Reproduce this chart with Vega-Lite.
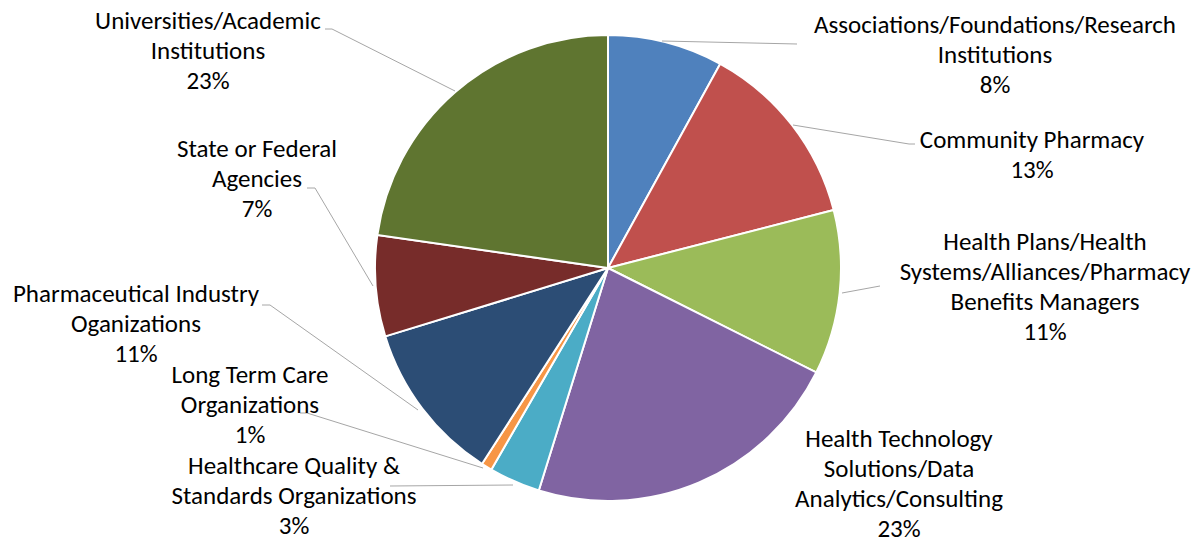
{
  "$schema": "https://vega.github.io/schema/vega-lite/v6.json",
  "width": 1200,
  "height": 545,
  "padding": 0,
  "autosize": {"type": "fit", "contains": "padding"},
  "background": "white",
  "config": {"view": {"stroke": null}},
  "datasets": {
    "slices": [
      {"i": 1, "cat": "Associations/Foundations/Research Institutions", "v": 8.0, "label": "Associations/Foundations/Research\nInstitutions\n8%", "lx": 995, "ly": 33},
      {"i": 2, "cat": "Community Pharmacy", "v": 13.0, "label": "Community Pharmacy\n13%", "lx": 1032, "ly": 148},
      {"i": 3, "cat": "Health Plans/Health Systems/Alliances/Pharmacy Benefits Managers", "v": 11.4, "label": "Health Plans/Health\nSystems/Alliances/Pharmacy\nBenefits Managers\n11%", "lx": 1045, "ly": 250},
      {"i": 4, "cat": "Health Technology Solutions/Data Analytics/Consulting", "v": 22.4, "label": "Health Technology\nSolutions/Data\nAnalytics/Consulting\n23%", "lx": 899, "ly": 447},
      {"i": 5, "cat": "Healthcare Quality & Standards Organizations", "v": 3.55, "label": "Healthcare Quality &\nStandards Organizations\n3%", "lx": 294, "ly": 474},
      {"i": 6, "cat": "Long Term Care Organizations", "v": 0.75, "label": "Long Term Care\nOrganizations\n1%", "lx": 250, "ly": 383},
      {"i": 7, "cat": "Pharmaceutical Industry Oganizations", "v": 11.16, "label": "Pharmaceutical Industry\nOganizations\n11%", "lx": 136, "ly": 302},
      {"i": 8, "cat": "State or Federal Agencies", "v": 7.0, "label": "State or Federal\nAgencies\n7%", "lx": 257, "ly": 157},
      {"i": 9, "cat": "Universities/Academic Institutions", "v": 22.74, "label": "Universities/Academic\nInstitutions\n23%", "lx": 208, "ly": 29}
    ],
    "leaders": [
      {"cat": "Associations", "s": 1, "x": 797, "y": 44},
      {"cat": "Associations", "s": 2, "x": 662, "y": 41},
      {"cat": "Community", "s": 1, "x": 915, "y": 144},
      {"cat": "Community", "s": 2, "x": 909, "y": 144},
      {"cat": "Community", "s": 3, "x": 793, "y": 125},
      {"cat": "HealthPlans", "s": 1, "x": 880, "y": 286},
      {"cat": "HealthPlans", "s": 2, "x": 842, "y": 293},
      {"cat": "Universities", "s": 1, "x": 325, "y": 29},
      {"cat": "Universities", "s": 2, "x": 332, "y": 29},
      {"cat": "Universities", "s": 3, "x": 455, "y": 91},
      {"cat": "State", "s": 1, "x": 307, "y": 188},
      {"cat": "State", "s": 2, "x": 315, "y": 188},
      {"cat": "State", "s": 3, "x": 373, "y": 286},
      {"cat": "Pharma", "s": 1, "x": 262, "y": 305},
      {"cat": "Pharma", "s": 2, "x": 270, "y": 305},
      {"cat": "Pharma", "s": 3, "x": 418, "y": 410},
      {"cat": "LTC", "s": 1, "x": 300, "y": 413},
      {"cat": "LTC", "s": 2, "x": 307, "y": 413},
      {"cat": "LTC", "s": 3, "x": 483, "y": 468},
      {"cat": "HQ", "s": 1, "x": 390, "y": 486},
      {"cat": "HQ", "s": 2, "x": 513, "y": 485}
    ]
  },
  "layer": [
    {
      "data": {"name": "slices"},
      "mark": {"type": "arc", "outerRadius": 233, "stroke": "white", "strokeWidth": 2},
      "encoding": {
        "theta": {"field": "v", "type": "quantitative", "stack": true},
        "order": {"field": "i", "type": "quantitative"},
        "color": {
          "field": "cat", "type": "nominal", "legend": null,
          "scale": {
            "domain": ["Associations/Foundations/Research Institutions", "Community Pharmacy", "Health Plans/Health Systems/Alliances/Pharmacy Benefits Managers", "Health Technology Solutions/Data Analytics/Consulting", "Healthcare Quality & Standards Organizations", "Long Term Care Organizations", "Pharmaceutical Industry Oganizations", "State or Federal Agencies", "Universities/Academic Institutions"],
            "range": ["#4F81BD", "#C0504D", "#9BBB59", "#8064A2", "#4BACC6", "#F79646", "#2C4D75", "#772C2A", "#5F7530"]
          }
        },
        "x": {"datum": 608, "type": "quantitative", "scale": {"domain": [0, 1200], "nice": false, "zero": false}, "axis": null},
        "y": {"datum": 268, "type": "quantitative", "scale": {"domain": [0, 545], "nice": false, "zero": false, "reverse": true}, "axis": null}
      }
    },
    {
      "data": {"name": "leaders"},
      "mark": {"type": "line", "color": "#A6A6A6", "strokeWidth": 1},
      "encoding": {
        "x": {"field": "x", "type": "quantitative", "axis": null},
        "y": {"field": "y", "type": "quantitative", "axis": null},
        "detail": {"field": "cat"},
        "order": {"field": "s", "type": "quantitative"}
      }
    },
    {
      "data": {"name": "slices"},
      "mark": {"type": "text", "align": "center", "baseline": "alphabetic", "font": "Carlito, Lato", "fontSize": 25, "lineHeight": 30, "lineBreak": "\n", "color": "#000000"},
      "encoding": {
        "x": {"field": "lx", "type": "quantitative", "axis": null},
        "y": {"field": "ly", "type": "quantitative", "axis": null},
        "text": {"field": "label", "type": "nominal"}
      }
    }
  ]
}
